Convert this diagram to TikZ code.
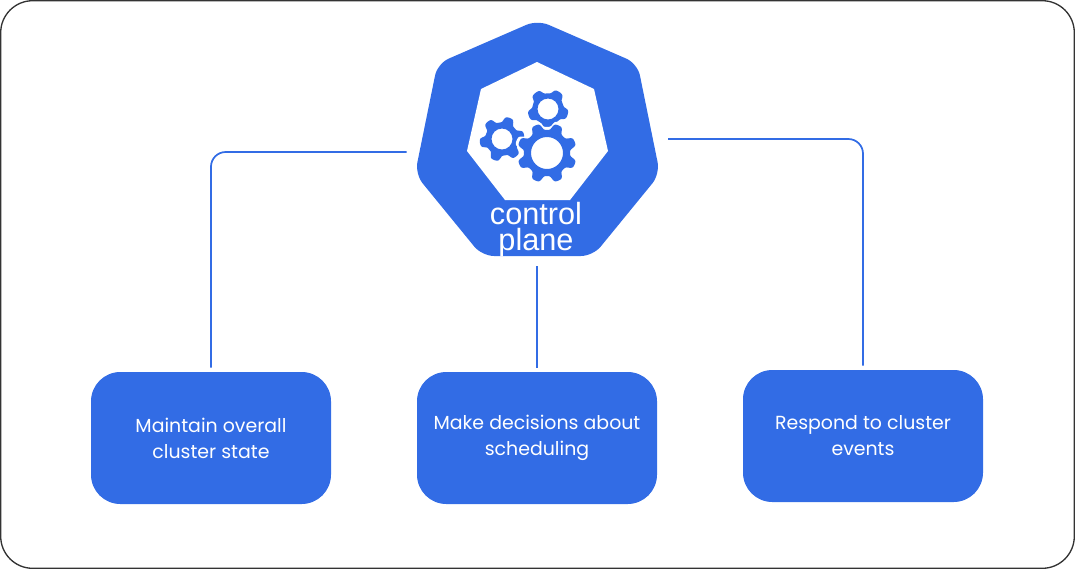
\documentclass[tikz,border=0pt]{standalone}
\usepackage{fontspec}
\setmainfont{Poppins}
\newfontfamily\hubfont{Liberation Sans}
\usetikzlibrary{calc}
\definecolor{kubeblue}{HTML}{326CE5}
\definecolor{framegray}{HTML}{333333}
\tikzset{
	taskbox/.style={fill=kubeblue, rounded corners=22pt, minimum width=180pt, minimum height=99pt, inner sep=0pt, align=center, text=white, font=\fontsize{14.2}{19.5}\selectfont},
	link/.style={draw=kubeblue, line width=1.3pt, rounded corners=11pt, shorten >=3pt}
}
\def\gear[#1](#2,#3)(#4:#5:#6:#7:#8){\fill[#1] plot[domain=0:360, samples=181, smooth] ({#2+(#5+(#4-#5)*0.5*(1+tanh(2*cos(#7*(\x-#8)))))*cos(\x)}, {#3+(#5+(#4-#5)*0.5*(1+tanh(2*cos(#7*(\x-#8)))))*sin(\x)}) -- cycle (#2+#6,#3) arc (0:360:#6);}

\begin{document}
\begin{tikzpicture}[x=0.75pt, y=-0.75pt]
		%%%%% START %%%%%
		\useasboundingbox (0, 0) rectangle (1075, 569);
		
		\draw[framegray, line width=1pt, rounded corners=24pt] (0.7, 0.7) rectangle (1074.3, 568.3);
		
		% hub
		\fill[kubeblue, rounded corners=9pt] (537.5, 20) -- (637.5, 63.5) -- (660, 174) -- (593, 256) -- (482, 256) -- (415, 174) -- (437.5, 63.5) -- cycle;
		\fill[white] (537, 62) -- (594, 89) -- (608, 151) -- (570, 200) -- (505, 200) -- (467, 151) -- (481, 89) -- cycle;
		
		% gears
		\gear[kubeblue, even odd rule](548, 109)(20.5:15.5:10.5:5:16);
		\gear[kubeblue, even odd rule](502, 139)(22.5:16.5:10.5:6:50);
		\gear[white](547, 153)(33:26:1:8:22.5);
		\gear[kubeblue, even odd rule](547, 153)(30:23:16:8:22.5);
		
		\node[text=white, font=\hubfont\fontsize{23}{19.5}\selectfont, align=center, inner sep=0pt] (hublabel) at (536, 230) {control\\plane};
		
		% tasks
		\node[taskbox] (boxa) at (211, 438) {Maintain overall\\cluster state};
		\node[taskbox] (boxb) at (537, 438) {Make decisions about\\scheduling};
		\node[taskbox] (boxc) at (863, 436) {Respond to cluster\\events};
		
		\coordinate (hubleft) at (406.5, 152);
		\coordinate (hubright) at (668, 139);
		\coordinate (hubbottom) at (537, 266);
		
		\draw[link] (hubleft) -| (boxa.north);
		\draw[link] (hubbottom) -- (boxb.north);
		\draw[link] (hubright) -| (boxc.north);
		%%%%% END %%%%%
	\end{tikzpicture}
\end{document}
